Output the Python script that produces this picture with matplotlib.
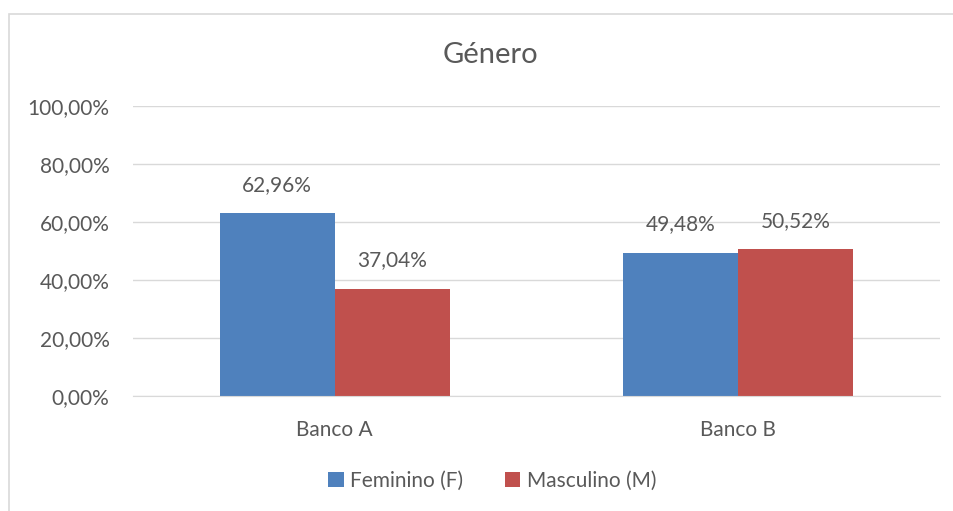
import matplotlib
matplotlib.use("Agg")
import matplotlib.pyplot as plt
from matplotlib.patches import Rectangle
import numpy as np

categories = ["Banco A", "Banco B"]
series_names = ["Feminino (F)", "Masculino (M)"]
feminino = [62.96, 49.48]
masculino = [37.04, 50.52]
yticks = [0, 20, 40, 60, 80, 100]

plt.rcParams['font.family'] = ['Lato', 'DejaVu Sans']
txt = '#595959'
colors = ['#4F81BD', '#C0504D']

fig = plt.figure(figsize=(9.54, 5.11), dpi=100)
fig.patches.append(Rectangle((9/954, -0.1), 1.2, 1 - 14/511 + 0.1, transform=fig.transFigure,
                             fill=False, edgecolor='#d9d9d9', linewidth=1.2))
ax = fig.add_axes([133/954, 1 - 396/511, (940 - 133)/954, (396 - 106)/511])

x = np.arange(len(categories))
w = 0.285
fs = 15
fmt = lambda v: f"{v:.2f}%".replace('.', ',')
for i, (vals, name) in enumerate(zip([feminino, masculino], series_names)):
    pos = x + (i - 0.5) * w
    bars = ax.bar(pos, vals, width=w, color=colors[i], label=name, zorder=3)
    for b, v in zip(bars, vals):
        ax.annotate(fmt(v), (b.get_x() + b.get_width() / 2, v), xytext=(0, 13),
                    textcoords='offset points', ha='center', va='bottom',
                    fontsize=fs, color=txt)

ax.set_xlim(-0.5, 1.5)
ax.set_ylim(0, 100)
ax.set_yticks(yticks)
ax.set_yticklabels([f"{t:.2f}%".replace('.', ',') for t in yticks])
ax.set_xticks(x)
ax.set_xticklabels(categories)
ax.tick_params(axis='both', length=0, labelsize=fs, labelcolor=txt)
ax.tick_params(axis='y', pad=17)
ax.tick_params(axis='x', pad=17)
ax.yaxis.grid(True, color='#d9d9d9', linewidth=1, zorder=0)
for s in ['top', 'right', 'left']:
    ax.spines[s].set_visible(False)
ax.spines['bottom'].set_color('#d9d9d9')
ax.spines['bottom'].set_zorder(4)

fig.text(490/954, 1 - 55/511, "Género", ha='center', va='center', fontsize=21, color=txt)
handles, labels = ax.get_legend_handles_labels()
fig.legend(handles, labels, loc='center', bbox_to_anchor=(492/954, 1 - 481/511), ncol=2,
           frameon=False, fontsize=fs, labelcolor=txt, handlelength=0.75, handleheight=0.75,
           handletextpad=0.3, columnspacing=2.0)

fig.savefig("out.png", dpi=100)
